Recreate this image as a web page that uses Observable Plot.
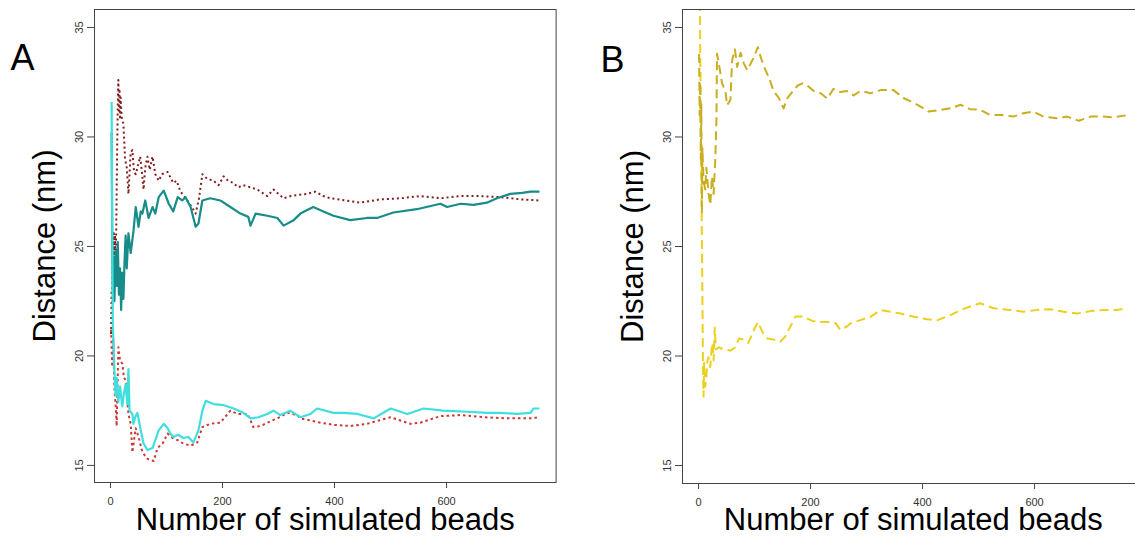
<!DOCTYPE html>
<html><head><meta charset="utf-8">
<script src="https://cdn.jsdelivr.net/npm/d3@7"></script>
<script src="https://cdn.jsdelivr.net/npm/@observablehq/plot@0.6"></script>
<style>
html,body{margin:0;padding:0;background:#fff;overflow:hidden}
#wrap{position:relative;width:1135px;height:538px;overflow:hidden;background:#fff}
#pa{position:absolute;left:0;top:0;width:560px;height:538px}
#pb{position:absolute;left:560px;top:0;width:588px;height:538px}
#wrap svg{max-width:none !important;display:block}
</style></head><body><div id="wrap"><div id="pa"></div><div id="pb"></div></div>
<script>
const xTicks = [0, 200, 400, 600];
const yTicks = [15, 20, 25, 30, 35];
const xTitle = "Number of simulated beads";
const yTitle = "Distance (nm)";

// Panel A, upper dotted (dark red)
const aDarkRedX = [1,2,3,4,5,6,7,8,9,10,11,12,13,14,15,16,17,18,20,23,26,29,32,36,39,42,45,50,53,56,59,62,66,70,75,80,86,92,102,112,118,125,131,137,145,152,158,164,172,184,193,202,210,219,228,237,250,262,280,291,309,322,334,350,366,380,393,419,446,482,518,553,589,625,660,696,732,766];
const aDarkRedY = [21.0,23.0,22.2,24.5,23.6,25.6,24.2,25.5,24.0,25.4,27.5,29.8,31.5,32.6,31.2,32.2,30.8,31.8,30.9,30.6,29.0,28.6,27.4,29.3,29.4,28.4,28.3,28.8,29.1,28.4,27.6,28.6,29.1,28.5,29.1,28.3,28.0,28.3,28.4,27.9,28.0,27.5,27.3,27.1,26.8,26.5,27.2,28.3,28.1,28.0,27.8,28.2,28.0,27.9,27.7,27.8,27.7,27.6,27.3,27.6,27.2,27.3,27.35,27.4,27.5,27.3,27.2,27.1,27.0,27.15,27.2,27.3,27.2,27.3,27.3,27.25,27.15,27.1];

// Panel A, upper solid (teal)
const aTealX = [2,3,4,5,7,9,11,13,15,17,19,21,23,25,27,29,32,36,41,45,50,54,57,62,68,75,80,86,95,104,112,120,128,134,143,148,152,157,164,178,196,214,232,246,250,259,280,298,309,327,339,362,380,398,428,458,476,505,547,589,601,625,648,672,690,714,735,750,766];
const aTealY = [30.2,25.5,23.0,24.5,22.5,24.8,23.2,25.2,22.8,24.0,22.1,23.8,22.6,24.3,25.5,24.0,25.6,24.7,25.7,26.8,25.9,26.6,26.5,27.1,26.3,26.8,26.5,27.25,27.55,26.95,26.6,27.25,27.1,27.25,26.8,26.3,25.9,26.05,27.1,27.2,27.1,26.8,26.5,26.35,25.95,26.5,26.4,26.3,25.95,26.2,26.5,26.8,26.6,26.4,26.2,26.3,26.3,26.55,26.7,26.95,26.8,26.95,26.9,27.0,27.2,27.4,27.45,27.5,27.5];

// Panel A, lower solid (cyan)
const aCyanX = [2,3,4,5,7,9,11,14,17,21,24,27,30,32,34,39,41,44,48,54,59,66,75,80,86,95,102,107,112,121,130,139,148,157,164,170,184,202,220,237,250,264,280,291,303,321,339,357,369,398,416,441,470,500,530,559,594,637,673,696,726,750,755,766];
const aCyanY = [31.6,26.0,21.5,20.8,19.3,18.2,19.0,17.9,18.6,17.7,18.3,18.7,17.8,19.4,17.5,17.35,16.9,17.2,17.4,16.6,16.0,15.7,15.8,16.15,16.6,16.9,16.7,16.45,16.3,16.4,16.25,16.3,16.05,16.6,17.5,17.95,17.8,17.75,17.6,17.4,17.15,17.2,17.35,17.5,17.3,17.5,17.2,17.35,17.6,17.4,17.4,17.35,17.15,17.6,17.35,17.6,17.5,17.45,17.4,17.4,17.35,17.4,17.6,17.6];

// Panel A, lower dotted (red)
const aRedX = [1,3,5,7,9,11,12,14,17,21,24,27,32,36,39,45,50,57,66,77,84,93,102,111,120,130,143,155,164,178,196,214,227,245,255,268,280,298,316,334,339,375,400,428,458,500,535,553,589,625,666,708,750,766];
const aRedY = [21.2,19.5,20.8,18.5,17.8,16.8,18.0,20.4,19.8,19.65,19.0,18.9,17.35,16.9,15.6,16.7,16.3,15.6,15.3,15.2,15.8,16.0,16.45,16.25,16.15,16.0,15.9,16.05,16.75,16.9,16.95,17.5,17.35,17.35,16.75,16.8,16.95,17.15,17.4,17.3,17.15,16.95,16.85,16.8,16.9,17.2,16.9,16.95,17.25,17.3,17.2,17.15,17.15,17.2];

// Panel B, upper dashed (olive gold)
const bOliveX = [1,2,3,4,5,6,7,9,12,14,18,21,24,27,30,32,33,36,42,48,51,57,60,65,69,75,81,87,93,99,106,111,117,126,134,143,152,158,167,177,186,194,206,218,230,241,253,265,277,289,307,325,348,366,391,411,432,450,468,485,503,521,544,562,580,598,616,640,658,679,700,723,741,766];
const bOliveY = [33.8,31.0,32.5,29.0,31.5,26.5,29.5,28.0,27.6,28.6,27.4,26.9,28.2,27.4,29.0,30.8,33.8,33.4,32.45,32.1,31.45,31.7,33.5,34.0,33.2,33.85,33.35,33.05,33.35,33.65,34.1,33.65,33.2,32.7,32.1,31.8,31.3,31.75,32.05,32.35,32.45,32.35,32.1,32.0,31.75,32.2,32.05,32.1,31.9,32.1,32.0,32.14,32.14,31.78,31.47,31.16,31.24,31.31,31.47,31.27,31.24,31.0,31.0,30.93,31.08,31.16,30.93,30.85,30.93,30.74,30.93,30.93,30.9,31.0];

// Panel B, lower dashed (yellow)
const bYellowX = [1,8,9,10,12,14,16,18,21,23,25,27,29,31,36,45,57,66,72,81,89,99,106,114,123,134,146,155,164,173,187,203,218,232,245,253,265,271,289,307,325,343,361,385,408,426,450,468,485,503,527,557,580,604,628,652,676,700,723,747,766];
const bYellowY = [40,19.5,18.15,19.7,18.6,19.05,19.8,19.95,19.5,20.2,20.6,19.8,21.3,20.3,20.4,20.3,20.25,20.4,20.8,20.75,20.6,21.2,21.55,21.1,20.8,20.75,20.65,20.9,21.35,21.8,21.8,21.6,21.55,21.55,21.5,21.2,21.35,21.48,21.64,21.79,22.1,22.02,21.94,21.79,21.68,21.63,21.87,22.1,22.26,22.41,22.18,22.1,22.02,22.1,22.14,22.02,21.94,22.05,22.1,22.1,22.18];

const pts = (xs, ys) => xs.map((x, i) => ({x, y: ys[i]}));
const FONT = "'Liberation Sans', Arial, Helvetica, sans-serif";

function panel({letter, mLeft, width, mBottom, yDomain, lines, letterDx, letterDy, titleDy}) {
  return Plot.plot({
    width, height: 538,
    marginLeft: mLeft, marginRight: width - mLeft - 461.6, marginTop: 9, marginBottom: mBottom,
    style: {fontFamily: FONT, fontSize: "11px", color: "#333", background: "white", overflow: "visible", maxWidth: "none"},
    x: {domain: [-28.6, 795.6]},
    y: {domain: yDomain},
    marks: [
      ...lines.map(l => Plot.line(pts(l.x, l.y), {x: "x", y: "y", stroke: l.color, strokeWidth: l.w, strokeDasharray: l.dash, strokeLinecap: "butt", clip: true})),
      Plot.frame({stroke: "#444", strokeWidth: 1}),
      Plot.axisX({ticks: xTicks, tickSize: 6, tickPadding: 9, label: null, stroke: "#444", fill: "#333", fontSize: 11}),
      Plot.axisY({ticks: yTicks, tickSize: 7, tickPadding: 5, tickRotate: -90, label: null, stroke: "#444", fill: "#333", fontSize: 11}),
      Plot.text([xTitle], {frameAnchor: "bottom", dy: titleDy, fontSize: 31, fill: "#000", lineAnchor: "middle"}),
      Plot.text([yTitle], {frameAnchor: "left", dx: -49, rotate: -90, fontSize: 31, fill: "#000", textAnchor: "middle", lineAnchor: "middle"}),
      Plot.text([letter], {frameAnchor: "top-left", dx: letterDx, dy: letterDy, fontSize: 36, fill: "#000", textAnchor: "start", lineAnchor: "middle"})
    ]
  });
}

document.getElementById("pa").appendChild(panel({
  letter: "A", mLeft: 94, width: 560, mBottom: 56, yDomain: [14.22, 35.82],
  letterDx: -84, letterDy: 49, titleDy: 38,
  lines: [
    {x: aDarkRedX, y: aDarkRedY, color: "#821d1d", w: 2, dash: "2,3"},
    {x: aRedX, y: aRedY, color: "#cf3535", w: 2, dash: "2.5,3"},
    {x: aTealX, y: aTealY, color: "#178c88", w: 2.2, dash: null},
    {x: aCyanX, y: aCyanY, color: "#3fdfdf", w: 2.2, dash: null}
  ]
}));

document.getElementById("pb").appendChild(panel({
  letter: "B", mLeft: 122, width: 588, mBottom: 55, yDomain: [14.18, 35.82],
  letterDx: -82, letterDy: 51, titleDy: 37,
  lines: [
    {x: bYellowX, y: bYellowY, color: "#ecd020", w: 2, dash: "9,5"},
    {x: bOliveX, y: bOliveY, color: "#c8ae20", w: 2, dash: "9,5"}
  ]
}));
</script>
</body></html>
